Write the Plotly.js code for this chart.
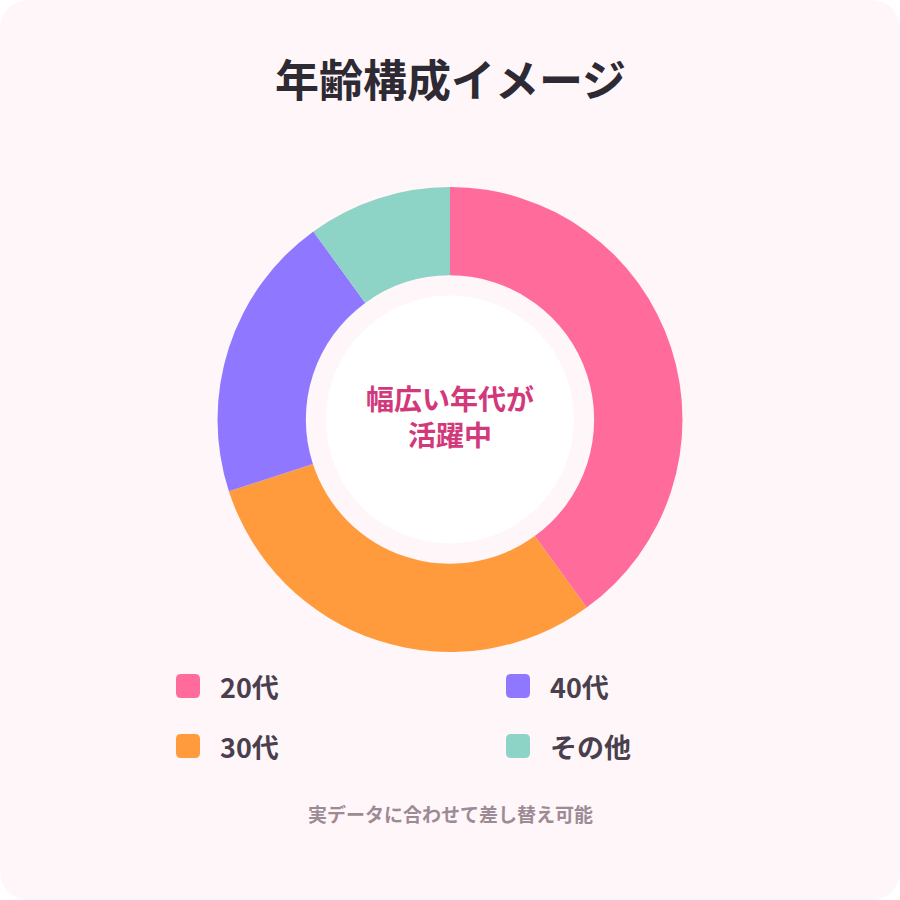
<!DOCTYPE html>
<html>
<head>
<meta charset="utf-8">
<script src="https://cdn.plot.ly/plotly-3.0.1.min.js"></script>
<style>
html,body{margin:0;padding:0;background:#ffffff;}
#chart{width:900px;height:900px;}
</style>
</head>
<body>
<div id="chart"></div>
<script>
const categories = ["20代", "30代", "40代", "その他"];
const values = [40, 30, 20, 10];
const colors = ["#FF6B9B", "#FF9B3D", "#8F78FF", "#8DD3C6"];
const titleText = "年齢構成イメージ";
const centerText = "幅広い年代が<br>活躍中";
const footerText = "実データに合わせて差し替え可能";

const W = 900, H = 900;
const FONT = "'Noto Sans CJK JP', 'Noto Sans', sans-serif";
function px(x){ return x / W; }
function py(y){ return 1 - y / H; }

function roundRectPath(x0, y0, x1, y1, r){
  const p = (x, y) => px(x).toFixed(5) + "," + py(y).toFixed(5);
  return "M" + p(x0 + r, y0) +
    " L" + p(x1 - r, y0) + " Q" + p(x1, y0) + " " + p(x1, y0 + r) +
    " L" + p(x1, y1 - r) + " Q" + p(x1, y1) + " " + p(x1 - r, y1) +
    " L" + p(x0 + r, y1) + " Q" + p(x0, y1) + " " + p(x0, y1 - r) +
    " L" + p(x0, y0 + r) + " Q" + p(x0, y0) + " " + p(x0 + r, y0) + " Z";
}

const cx = 450, cy = 419.5, R = 232.5;

const shapes = [
  {type: "path", xref: "paper", yref: "paper", layer: "below",
   path: roundRectPath(0, 0, 900, 900, 32), fillcolor: "#FFF6F9", line: {width: 0}},
  {type: "circle", xref: "paper", yref: "paper", layer: "below",
   x0: px(cx - 124), x1: px(cx + 124), y0: py(cy + 124), y1: py(cy - 124),
   fillcolor: "#FFFFFF", line: {width: 0}}
];

const annotations = [
  {text: "<b>" + titleText + "</b>", xref: "paper", yref: "paper", x: 0.5, y: py(78),
   xanchor: "center", yanchor: "middle", showarrow: false,
   font: {family: FONT, size: 44, color: "#2E2A33"}},
  {text: "<b>" + centerText + "</b>", xref: "paper", yref: "paper", x: px(cx), y: py(416),
   xanchor: "center", yanchor: "middle", showarrow: false,
   font: {family: FONT, size: 28, color: "#D2397A"}},
  {text: "<b>" + footerText + "</b>", xref: "paper", yref: "paper", x: 0.5, y: py(813),
   xanchor: "center", yanchor: "middle", showarrow: false,
   font: {family: FONT, size: 19, color: "#9C8B94"}}
];

const legX = [176, 506];
const legY = [686, 746];
categories.forEach((c, i) => {
  const col = Math.floor(i / 2), row = i % 2;
  const x = legX[col], y = legY[row];
  shapes.push({type: "path", xref: "paper", yref: "paper", layer: "above",
    path: roundRectPath(x, y - 12, x + 24, y + 12, 5),
    fillcolor: colors[i], line: {width: 0}});
  annotations.push({text: "<b>" + c + "</b>", xref: "paper", yref: "paper",
    x: px(x + 42), y: py(y), xanchor: "left", yanchor: "middle", showarrow: false,
    font: {family: FONT, size: 27, color: "#4A3F4E"}});
});

const trace = {
  type: "pie",
  labels: categories,
  values: values,
  sort: false,
  direction: "clockwise",
  rotation: 0,
  hole: 0.62,
  marker: {colors: colors, line: {width: 0}},
  textinfo: "none",
  hoverinfo: "none",
  showlegend: false,
  domain: {x: [px(cx - R), px(cx + R)], y: [py(cy + R), py(cy - R)]}
};

const layout = {
  width: W, height: H,
  margin: {l: 0, r: 0, t: 0, b: 0},
  paper_bgcolor: "#FFFFFF",
  plot_bgcolor: "rgba(0,0,0,0)",
  showlegend: false,
  shapes: shapes,
  annotations: annotations,
  font: {family: FONT}
};

Plotly.newPlot("chart", [trace], layout, {displayModeBar: false, staticPlot: true});
</script>
</body>
</html>
